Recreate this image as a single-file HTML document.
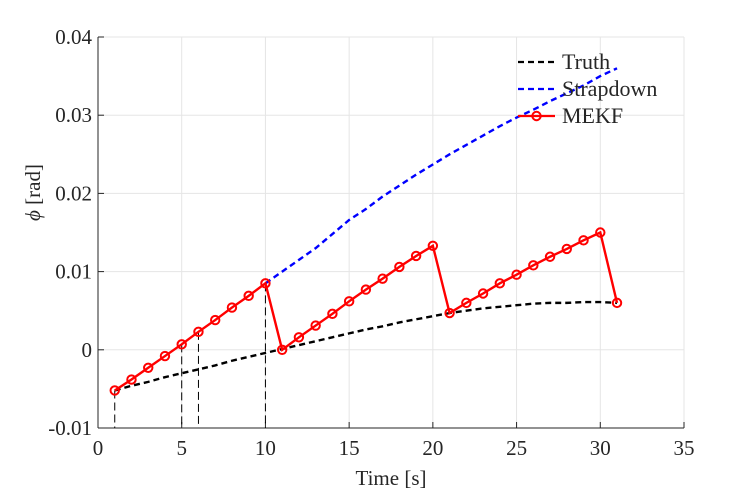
<!DOCTYPE html>
<html><head><meta charset="utf-8"><style>
body{margin:0;background:#fff;}
svg text{font-family:"Liberation Serif",serif;fill:#262626;}
</style></head><body>
<svg width="756" height="492" xmlns="http://www.w3.org/2000/svg">
<g id="grid"></g>
<g id="axes"></g>
<g id="series"></g>
<g>
<g><line x1="518" y1="62" x2="555" y2="62" stroke="#000" stroke-width="2.2" stroke-dasharray="6,4"/><text x="562" y="69" font-size="22">Truth</text></g>
<g><line x1="518" y1="89" x2="555" y2="89" stroke="#00f" stroke-width="2.2" stroke-dasharray="6,4"/><text x="562" y="96" font-size="22">Strapdown</text></g>
<g><line x1="518" y1="116" x2="555" y2="116" stroke="#f00" stroke-width="2.2"/><circle cx="536.5" cy="116" r="4.2" fill="none" stroke="#f00" stroke-width="2"/><text x="562" y="123" font-size="22">MEKF</text></g>
</g>
</svg>
<script>
const xTicks=[0,5,10,15,20,25,30,35];
const yTicks=[-0.01,0,0.01,0.02,0.03,0.04];
const yTickLabels=["-0.01","0","0.01","0.02","0.03","0.04"];
const mekfT=[1,2,3,4,5,6,7,8,9,10,11,12,13,14,15,16,17,18,19,20,21,22,23,24,25,26,27,28,29,30,31];
const mekfV=[-0.0052,-0.0038,-0.0023,-0.0008,0.0007,0.0023,0.0038,0.0054,0.0069,0.0085,0.0000,0.0016,0.0031,0.0046,0.0062,0.0077,0.0091,0.0106,0.0120,0.0133,0.0047,0.0060,0.0072,0.0085,0.0096,0.0108,0.0119,0.0129,0.0140,0.0150,0.0060];
const truthT=mekfT;
const truthV=[-0.0052,-0.0046,-0.0041,-0.0035,-0.0030,-0.0025,-0.0020,-0.0014,-0.0009,-0.0004,0.0001,0.0006,0.0011,0.0016,0.0021,0.0026,0.0030,0.0035,0.0039,0.0043,0.0047,0.0050,0.0053,0.0055,0.0057,0.0059,0.0060,0.0060,0.0061,0.0061,0.0060];
const strapT=[10,11,12,13,14,15,16,17,18,19,20,21,22,23,24,25,26,27,28,29,30,31];
const strapV=[0.0085,0.0100,0.0115,0.0130,0.0148,0.0166,0.0180,0.0196,0.0210,0.0224,0.0237,0.0250,0.0262,0.0274,0.0286,0.0297,0.0307,0.0318,0.0328,0.0338,0.0350,0.0360];
const measT=[1,5,6,10];
const measV=[-0.0052,0.0007,0.0023,0.0085];
const L=98,R=684,T=37,B=428;
const xs=v=>L+(v-0)/35*(R-L);
const ys=v=>B-(v+0.01)/0.05*(B-T);
const NS="http://www.w3.org/2000/svg";
function mk(tag,attrs,parent){const e=document.createElementNS(NS,tag);for(const k in attrs)e.setAttribute(k,attrs[k]);document.getElementById(parent).appendChild(e);return e;}
xTicks.forEach(t=>{
 const g=mk('line',{x1:xs(t),x2:xs(t),y1:T,y2:B,stroke:'#e5e5e5','stroke-width':1},'grid');
 
 
 const tk=mk('line',{x1:xs(t),x2:xs(t),y1:B,y2:B-6,stroke:'#262626'},'axes');
 
 
 const tx=mk('text',{x:xs(t),y:B+27,'font-size':21,'text-anchor':'middle'},'axes');
 tx.textContent=t;
 
 
});
yTicks.forEach((t,i)=>{
 const g=mk('line',{x1:L,x2:R,y1:ys(t),y2:ys(t),stroke:'#e5e5e5','stroke-width':1},'grid');
 
 
 const tk=mk('line',{x1:L,x2:L+6,y1:ys(t),y2:ys(t),stroke:'#262626'},'axes');
 
 
 const tx=mk('text',{x:L-6,y:ys(t)+7,'font-size':21,'text-anchor':'end'},'axes');
 tx.textContent=yTickLabels[i];
 
 
});
const xa=mk('line',{x1:L,x2:R,y1:B,y2:B,stroke:'#262626'},'axes');


const ya=mk('line',{x1:L,x2:L,y1:T,y2:B,stroke:'#262626'},'axes');


const xt=mk('text',{x:(L+R)/2,y:485,'font-size':21,'text-anchor':'middle'},'axes');
xt.textContent='Time [s]';


const yt=mk('text',{x:0,y:0,'font-size':21,'text-anchor':'middle',transform:`translate(40,${(T+B)/2-40}) rotate(-90)`},'axes');
yt.innerHTML='<tspan font-style="italic">ϕ</tspan> [rad]';


measT.forEach((t,i)=>{
 const l=mk('line',{x1:xs(t),x2:xs(t),y1:ys(measV[i]),y2:B,stroke:'#000','stroke-width':1,'stroke-dasharray':'8,4'},'series');
 
 
});
const pts=(T_,V)=>T_.map((t,i)=>xs(t)+','+ys(V[i])).join(' ');
const sd=mk('polyline',{points:pts(strapT,strapV),fill:'none',stroke:'#00f','stroke-width':2.4,'stroke-dasharray':'6,4'},'series');


const tr=mk('polyline',{points:pts(truthT,truthV),fill:'none',stroke:'#000','stroke-width':2.4,'stroke-dasharray':'6,4'},'series');


const me=mk('polyline',{points:pts(mekfT,mekfV),fill:'none',stroke:'#f00','stroke-width':2.4},'series');


mekfT.forEach((t,i)=>{
 const c=mk('circle',{cx:xs(t),cy:ys(mekfV[i]),r:4.2,fill:'none',stroke:'#f00','stroke-width':2},'series');
 
 
});
</script>
</body></html>
